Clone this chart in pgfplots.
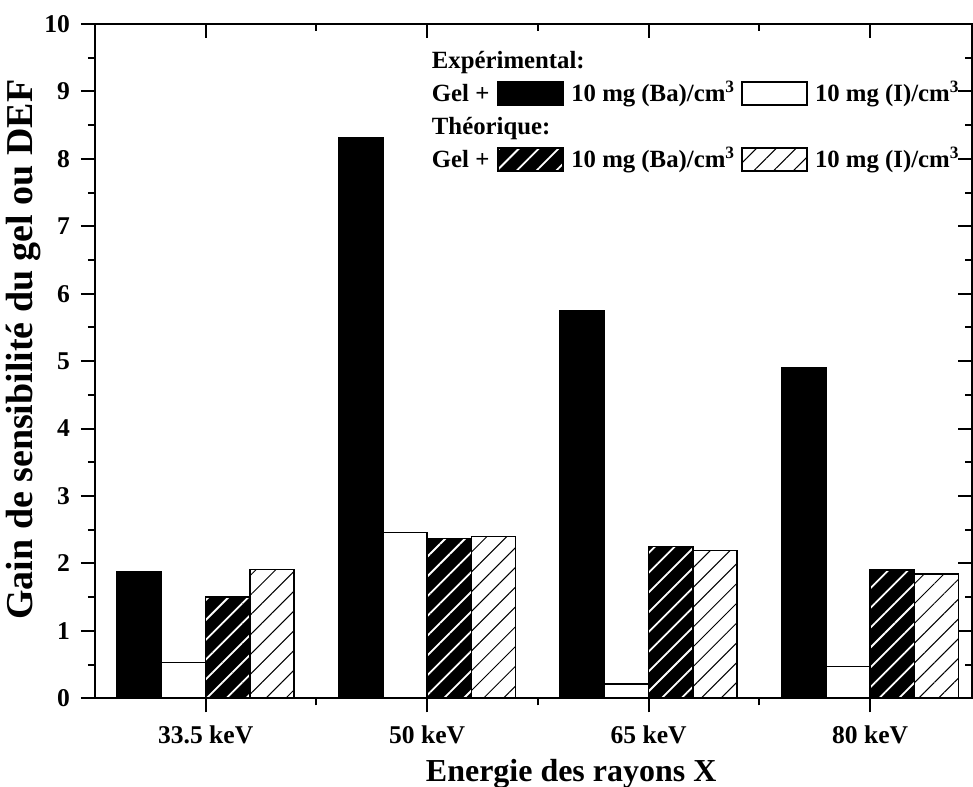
\documentclass[border=0pt]{standalone}
\usepackage{fontspec}
\setmainfont{Liberation Serif}
\usepackage{pgfplots}
\usepackage{pgfplotstable}
\pgfplotsset{compat=1.18}
\usetikzlibrary{patterns.meta}

% gain values
\pgfplotstableread{
x  baexp iexp bath ith
0  1.87  0.53 1.50 1.91
1  8.31  2.46 2.37 2.40
2  5.75  0.21 2.25 2.19
3  4.90  0.47 1.90 1.84
}\gaindata

\tikzset{
  hatchblack/.style={preaction={fill=black}, draw=black,
    pattern={Lines[angle=45,distance=7pt,line width=0.9pt]}, pattern color=white},
  hatchwhite/.style={preaction={fill=white}, draw=black,
    pattern={Lines[angle=45,distance=7pt,line width=0.5pt]}, pattern color=black},
}
\newcommand\swatch[1]{\tikz[baseline={(0,2pt)}]\path[draw=black, line width=1pt, #1] (0,0) rectangle (32.5pt,11.5pt);}

\begin{document}
\begin{tikzpicture}
\pgfplotsset{
  base/.style={
    scale only axis, width=439pt, height=337.5pt,
    xmin=-0.5, xmax=3.46, ymin=0, ymax=10,
    xtick={0,1,2,3}, ytick={0,...,10},
    minor x tick num=1, minor y tick num=1,
    major tick length=7pt, minor tick length=3.5pt,
    every tick/.style={black, line width=1pt},
    axis line style={line width=1pt},
  }
}
\begin{axis}[
  base, name=main,
  xticklabels={33.5 keV,50 keV,65 keV,80 keV},
  xtick pos=left, ytick pos=left, tick align=outside,
  tick label style={font=\fontsize{12.8}{15}\selectfont\bfseries},
  xticklabel style={yshift=-3pt},
  yticklabel style={xshift=-2pt},
  /pgf/number format/assume math mode=true,
  xlabel={Energie des rayons X},
  ylabel={Gain de sensibilité du gel ou DEF},
  x label style={at={(axis description cs:0.543,-0.112)}, anchor=center,
    font=\fontsize{16}{19}\selectfont\bfseries},
  y label style={at={(axis description cs:-0.081,0.517)}, anchor=center,
    font=\fontsize{19}{22}\selectfont\bfseries},
]
\addplot[ybar, bar width=0.2, bar shift=-0.3, fill=black, draw=black, line width=0.75pt]
  table[x=x, y=baexp] {\gaindata};
\addplot[ybar, bar width=0.2, bar shift=-0.1, fill=white, draw=black, line width=0.75pt]
  table[x=x, y=iexp] {\gaindata};
\addplot[ybar, bar width=0.2, bar shift=0.1, hatchblack, line width=0.75pt]
  table[x=x, y=bath] {\gaindata};
\addplot[ybar, bar width=0.2, bar shift=0.3, hatchwhite, line width=0.75pt]
  table[x=x, y=ith] {\gaindata};
\end{axis}
\begin{axis}[
  base,
  xticklabels={}, yticklabels={},
  xtick pos=right, ytick pos=right, tick align=inside,
]
\end{axis}

\node[anchor=north west, inner sep=0pt, font=\fontsize{12.4}{16.5}\selectfont\bfseries]
  at ([shift={(168.5pt,-10.5pt)}]main.north west) {%
  \begin{tabular}{@{}l@{\hspace{4pt}}c@{\hspace{3.5pt}}l@{\hspace{3pt}}c@{\hspace{3.5pt}}l@{}}
  \multicolumn{5}{@{}l}{Expérimental:}\\
  Gel + & \swatch{fill=black} & 10 mg (Ba)/cm\textsuperscript{3} & \swatch{fill=white} & 10 mg (I)/cm\textsuperscript{3}\\
  \multicolumn{5}{@{}l}{Théorique:}\\
  Gel + & \swatch{hatchblack} & 10 mg (Ba)/cm\textsuperscript{3} & \swatch{hatchwhite} & 10 mg (I)/cm\textsuperscript{3}\\
  \end{tabular}};

\pgfresetboundingbox
\path[use as bounding box] ([shift={(-47.5pt,-44pt)}]main.south west)
  rectangle ([shift={(0.5pt,12pt)}]main.north east);
\end{tikzpicture}
\end{document}
